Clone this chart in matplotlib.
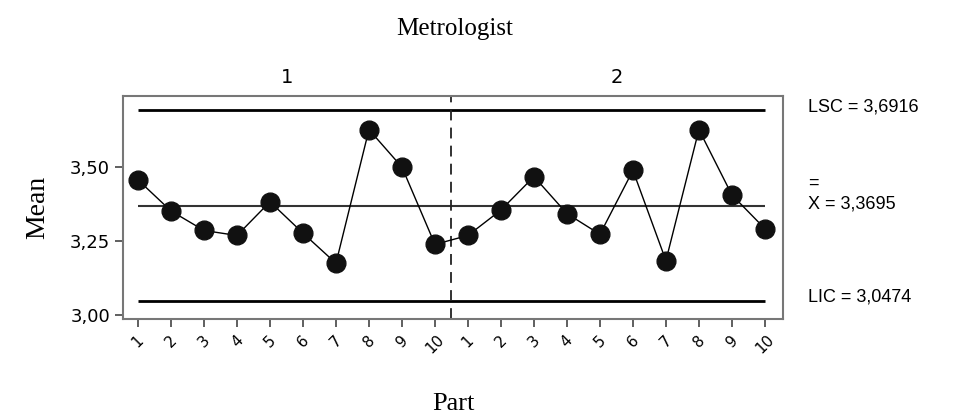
import numpy as np
import matplotlib.pyplot as plt

# data
parts = list(range(1, 11))
mean_m1 = [3.457, 3.352, 3.286, 3.269, 3.383, 3.277, 3.175, 3.627, 3.500, 3.239]
mean_m2 = [3.269, 3.355, 3.468, 3.343, 3.273, 3.489, 3.184, 3.627, 3.406, 3.292]
metrologists = ["1", "2"]
lsc = 3.6916
xbar = 3.3695
lic = 3.0474
yticks = [3.00, 3.25, 3.50]

means = mean_m1 + mean_m2
x = np.arange(1, len(means) + 1)
xlabels = [str(p) for p in parts] * len(metrologists)

fig = plt.figure(figsize=(9.62, 4.2), dpi=100)
ax = fig.add_axes([0.128, 0.240, 0.686, 0.531])

# control limits and centre line
ax.hlines([lsc, lic], 1, len(means), color="black", lw=2)
ax.hlines(xbar, 1, len(means), color="#333333", lw=1.5)
ax.axvline(len(parts) + 0.5, color="#222222", lw=1.3, ls=(0, (6, 4)))

ax.plot(x, means, color="black", lw=1, marker="o", ms=13.5,
        markerfacecolor="#111111", markeredgecolor="#111111")

ax.set_xlim(0.55, 20.55)
ax.set_ylim(2.986, 3.74)
ax.set_yticks(yticks)
ax.set_yticklabels([f"{v:.2f}".replace(".", ",") for v in yticks],
                   fontsize=13, family="DejaVu Sans")
ax.set_xticks(x)
ax.set_xticklabels(xlabels, rotation=45, fontsize=11, family="DejaVu Sans")
ax.tick_params(direction="out", length=6, width=1.2, color="#444444")
for s in ax.spines.values():
    s.set_color("#777777")
    s.set_linewidth(1.5)

ax.set_ylabel("Mean", family="Liberation Serif", fontsize=20, labelpad=14)
ax.set_xlabel("Part", family="Liberation Serif", fontsize=19, labelpad=26)

# panel labels on top
edges = [0.55, len(parts) + 0.5, 20.55]
for i, m in enumerate(metrologists):
    xc = (edges[i] + edges[i + 1]) / 2
    ax.text(xc, 1.04, m, transform=ax.get_xaxis_transform(),
            ha="center", va="bottom", fontsize=14, family="DejaVu Sans")
fig.text(0.473, 0.932, "Metrologist", ha="center", va="center",
         family="Liberation Serif", fontsize=18)

# right-side limit labels
fs = 13
fig.text(0.840, 1 - 107 / 420, "LSC = " + f"{lsc:.4f}".replace(".", ","),
         va="center", fontsize=fs, family="Liberation Sans")
fig.text(0.840, 1 - 183 / 420, "=", va="center", fontsize=fs, family="Liberation Sans")
fig.text(0.840, 1 - 204 / 420, "X = " + f"{xbar:.4f}".replace(".", ","),
         va="center", fontsize=fs, family="Liberation Sans")
fig.text(0.840, 1 - 297 / 420, "LIC = " + f"{lic:.4f}".replace(".", ","),
         va="center", fontsize=fs, family="Liberation Sans")

fig.savefig("out.png", dpi=100)
